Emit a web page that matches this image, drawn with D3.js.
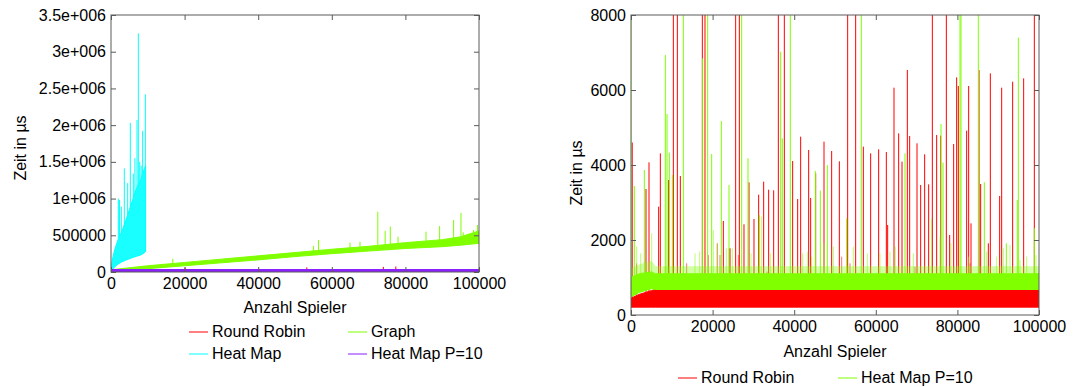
<!DOCTYPE html>
<html>
<head>
<meta charset="utf-8">
<script src="https://cdn.jsdelivr.net/npm/d3@7"></script>
<style>
  html, body { margin: 0; padding: 0; background: #fff; }
  svg { display: block; }
  text { font-family: "Liberation Sans", Arial, Helvetica, sans-serif; fill: #000; }
</style>
</head>
<body>
<svg id="chart" width="1073" height="387"></svg>
<script>
// ---------- shared axis data ----------
const xTicks = [0, 20000, 40000, 60000, 80000, 100000];
const xTickLabels = ["0", "20000", "40000", "60000", "80000", "100000"];

// ---------- left panel: all four algorithms ----------
const leftYTicks = [0, 500000, 1000000, 1500000, 2000000, 2500000, 3000000, 3500000];
const leftYTickLabels = ["0", "500000", "1e+006", "1.5e+006", "2e+006", "2.5e+006", "3e+006", "3.5e+006"];

// Round Robin (mostly hidden under Heat Map P=10)
const rrLeftX  = [0, 100000];
const rrLeftLo = [4000, 4000];
const rrLeftHi = [28000, 28000];
const rrLeftSpikes = [[20100, 60000], [53200, 62000], [74000, 70000], [77400, 75000]];

// Graph
const graphX  = [0, 10000, 20000, 30000, 40000, 50000, 60000, 70000, 80000, 90000, 95000, 100000];
const graphLo = [8000, 45000, 85000, 125000, 165000, 210000, 250000, 285000, 320000, 345000, 365000, 390000];
const graphHi = [30000, 85000, 130000, 175000, 220000, 265000, 310000, 350000, 400000, 440000, 480000, 560000];
const graphSpikes = [
  [16800, 180000], [55000, 354000], [56400, 436000], [64950, 400000], [67660, 413000],
  [72500, 821000], [74500, 560000], [75900, 617000], [78000, 480000], [85600, 549000],
  [89300, 626000], [93100, 708000], [95100, 805000], [95700, 540000], [98500, 572000], [99600, 640000]
];

// Heat Map (only measured up to ~9400 players)
const heatX  = [0, 500, 1000, 1500, 2000, 3000, 4000, 5000, 6000, 7000, 8000, 9000, 9400];
const heatLo = [0, 40000, 70000, 90000, 110000, 140000, 160000, 180000, 200000, 215000, 230000, 260000, 280000];
const heatHi = [50000, 200000, 300000, 380000, 450000, 560000, 700000, 850000, 1000000, 1150000, 1250000, 1400000, 1450000];
const heatSpikes = [
  [1990, 1000000], [2300, 980000], [2800, 890000], [3620, 1410000], [4530, 1210000],
  [5250, 2030000], [6070, 1340000], [6500, 1550000], [7070, 2070000], [7430, 3250000],
  [7800, 1500000], [8200, 1450000], [8600, 1920000], [9330, 2420000]
];

// Heat Map P=10
const hmpLeftX  = [0, 100000];
const hmpLeftLo = [6000, 6000];
const hmpLeftHi = [34000, 34000];

// ---------- right panel: Round Robin vs. Heat Map P=10 ----------
const rightYTicks = [0, 2000, 4000, 6000, 8000];
const rightYTickLabels = ["0", "2000", "4000", "6000", "8000"];

const rrX  = [0, 2000, 5000, 6000, 100000];
const rrLo = [210, 210, 210, 210, 210];
const rrHi = [450, 550, 650, 680, 680];
const rrSpikes = [
  [300, 4600], [3677, 3360], [4412, 4071], [6781, 2889], [7190, 4311], [9232, 3600],
  [10376, 9000], [11356, 9000], [12092, 3707], [17484, 9000], [18137, 9000],
  [22631, 2507], [24265, 1778], [25654, 9000], [26553, 9000], [27696, 2418], [28922, 3538],
  [30147, 2560], [31291, 3209], [32517, 3556], [33742, 3342], [34968, 3324],
  [36111, 9000], [37582, 9000], [39625, 4107], [40850, 3093], [41585, 4756], [43546, 4400],
  [44036, 3120], [45262, 3778], [47304, 4622], [49183, 4373], [51063, 4098],
  [53105, 9000], [55066, 9000], [56945, 4489], [58742, 4311], [60703, 4418], [62582, 4347],
  [62909, 2400], [64461, 6062], [65605, 4844], [66422, 4089], [67729, 6533], [68301, 4773],
  [70099, 4578], [70997, 3467], [71978, 4284], [72958, 3484], [73857, 9000], [74919, 4800],
  [75899, 4782], [77288, 9000], [78105, 2133], [79086, 4560], [79821, 6338], [80229, 6107],
  [82272, 4916], [82762, 6107], [83334, 2444], [85295, 6533], [85703, 3493], [87582, 1911],
  [88073, 6444], [90360, 3173], [90851, 6062], [93547, 6222], [96243, 6311], [98857, 9000]
];
const rrMinorSpikes = [
  [1389, 1378], [8415, 1289], [13644, 1378], [18954, 1600], [21160, 1911], [21814, 1600],
  [24101, 1778], [26307, 1600], [33334, 1156], [51634, 1556], [53677, 1378], [69608, 1289],
  [83089, 1378]
];

const hmpX  = [0, 2000, 5000, 6000, 100000];
const hmpLo = [480, 600, 700, 680, 680];
const hmpHi = [1000, 1100, 1150, 1100, 1100];
const hmpFuzz = [1250, 1350, 1450, 1300, 1300];
const hmpSpikes = [
  [0, 9000], [817, 3440], [3268, 3867], [8415, 6933], [8824, 5360], [9396, 4329], [10131, 3733],
  [12826, 9000], [17566, 6845], [18790, 9000], [19771, 4293], [22141, 5173], [24020, 3467],
  [27124, 9000], [28677, 4178], [31455, 2667], [36683, 7022], [37092, 4711], [39050, 9000],
  [45180, 3840], [46406, 3316], [48121, 4000], [52860, 2578], [56450, 9000], [67157, 4311],
  [75981, 5093], [76471, 4062], [80640, 9000], [80880, 9000], [85131, 9000], [86602, 3538],
  [91994, 1911], [94690, 3067], [94935, 7396], [98857, 2311]
];
const hmpMinorSpikes = [
  [1389, 1822], [2369, 1644], [5065, 2178], [15686, 1644], [16830, 1689], [20180, 2267],
  [21079, 1911], [23366, 1778], [24837, 1778], [29412, 1644], [31945, 2622], [34232, 1644],
  [42076, 1644], [43301, 1689], [44281, 1556], [47304, 1911], [49592, 1822], [54495, 1822],
  [57926, 1644], [61030, 1644], [63481, 1689], [64788, 1822], [69200, 1644], [73612, 2578],
  [75736, 2089], [78432, 1911], [82762, 1556], [87174, 1689], [89625, 1556], [91259, 1778],
  [92893, 1867], [95344, 1467], [96978, 1556], [99266, 1600]
];

// ---------- colours ----------
const RED = "#ff0000", GREEN = "#7fff00", CYAN = "#00ffff", PURPLE = "#8a1fff";
const AXIS = "#5a5a5a";

const svg = d3.select("#chart");

function panel(opts) {
  const g = svg.append("g");
  const x = d3.scaleLinear().domain([0, 100000]).range([opts.left, opts.right]);
  const y = d3.scaleLinear().domain(opts.yDomain).range([opts.bottom, opts.top]);

  const clipId = "clip-" + opts.id;
  svg.append("clipPath").attr("id", clipId)
    .append("rect")
    .attr("x", opts.left).attr("y", opts.top)
    .attr("width", opts.right - opts.left).attr("height", opts.bottom - opts.top);

  const plot = g.append("g").attr("clip-path", `url(#${clipId})`);

  opts.series.forEach(s => {
    const layer = plot.append("g");
    const pts = s.x.map((v, i) => ({ x: v, lo: s.lo[i], hi: s.hi[i], fz: s.fuzz ? s.fuzz[i] : null }));
    const base = d3.scaleLinear().domain(s.x).range(s.hi).clamp(true);
    if (s.fuzz) {
      layer.append("path")
        .attr("d", d3.area().x(d => x(d.x)).y0(d => y(d.hi)).y1(d => y(d.fz))(pts))
        .attr("fill", s.color).attr("fill-opacity", 0.35);
    }
    // faint short spikes just above the band
    layer.selectAll("line.minor").data(s.minor || []).join("line")
      .attr("class", "minor")
      .attr("x1", d => x(d[0])).attr("x2", d => x(d[0]))
      .attr("y1", d => y(base(d[0]))).attr("y2", d => y(d[1]))
      .attr("stroke", s.color).attr("stroke-opacity", 0.55).attr("stroke-width", 1);
    layer.append("path")
      .attr("d", d3.area().x(d => x(d.x)).y0(d => y(d.lo)).y1(d => y(d.hi))(pts))
      .attr("fill", s.color).attr("fill-opacity", s.bandOpacity || 1)
      .attr("stroke", s.color).attr("stroke-width", 1);
    layer.selectAll("line.spike").data(s.spikes || []).join("line")
      .attr("class", "spike")
      .attr("x1", d => x(d[0])).attr("x2", d => x(d[0]))
      .attr("y1", d => y(base(d[0]))).attr("y2", d => y(d[1]))
      .attr("stroke", s.color).attr("stroke-width", 1);
  });

  // frame
  g.append("rect")
    .attr("x", opts.left).attr("y", opts.top)
    .attr("width", opts.right - opts.left).attr("height", opts.bottom - opts.top)
    .attr("fill", "none").attr("stroke", AXIS).attr("stroke-width", 1);

  // axes with inward ticks, mirrored on top and right
  const fmtX = (d) => xTickLabels[xTicks.indexOf(d)];
  const fmtY = (d) => opts.yTickLabels[opts.yTicks.indexOf(d)];

  const ax = g.append("g").attr("transform", `translate(0,${opts.bottom})`)
    .call(d3.axisBottom(x).tickValues(xTicks).tickFormat(fmtX).tickSizeInner(-5).tickSizeOuter(0).tickPadding(6));
  const axTop = g.append("g").attr("transform", `translate(0,${opts.top})`)
    .call(d3.axisTop(x).tickValues(xTicks).tickFormat("").tickSizeInner(-5).tickSizeOuter(0));
  const ay = g.append("g").attr("transform", `translate(${opts.left},0)`)
    .call(d3.axisLeft(y).tickValues(opts.yTicks).tickFormat(fmtY).tickSizeInner(-5).tickSizeOuter(0).tickPadding(5));
  const ayR = g.append("g").attr("transform", `translate(${opts.right},0)`)
    .call(d3.axisRight(y).tickValues(opts.yTicks).tickFormat("").tickSizeInner(-5).tickSizeOuter(0));
  [ax, axTop, ay, ayR].forEach(a => {
    a.select(".domain").remove();
    a.selectAll(".tick line").attr("stroke", AXIS);
    a.selectAll("text").attr("font-size", 16).attr("font-family", "Liberation Sans, Arial, sans-serif").attr("fill", "#000");
  });

  // axis titles
  g.append("text")
    .attr("x", (opts.left + opts.right) / 2).attr("y", opts.xTitleY)
    .attr("text-anchor", "middle").attr("font-size", 16)
    .text("Anzahl Spieler");
  g.append("text")
    .attr("transform", `translate(${opts.yTitleX},${opts.yTitleY}) rotate(-90)`)
    .attr("text-anchor", "middle").attr("font-size", 16)
    .text("Zeit in µs");

  // legend
  opts.legend.forEach(L => {
    g.append("line")
      .attr("x1", L.x).attr("x2", L.x + 19).attr("y1", L.y).attr("y2", L.y)
      .attr("stroke", L.color).attr("stroke-width", 1);
    g.append("text")
      .attr("x", L.x + 23).attr("y", L.y + 5)
      .attr("font-size", 16).text(L.label);
  });
}

panel({
  id: "left", left: 111, right: 479, top: 15, bottom: 272,
  yDomain: [0, 3500000], yTicks: leftYTicks, yTickLabels: leftYTickLabels,
  xTitleY: 313, yTitleX: 26, yTitleY: 148,
  series: [
    { x: rrLeftX, lo: rrLeftLo, hi: rrLeftHi, spikes: rrLeftSpikes, color: RED },
    { x: graphX, lo: graphLo, hi: graphHi, spikes: graphSpikes, color: GREEN },
    { x: heatX, lo: heatLo, hi: heatHi, spikes: heatSpikes, color: CYAN, bandOpacity: 0.9 },
    { x: hmpLeftX, lo: hmpLeftLo, hi: hmpLeftHi, spikes: [], color: PURPLE }
  ],
  legend: [
    { x: 189, y: 332, color: RED, label: "Round Robin" },
    { x: 348, y: 332, color: GREEN, label: "Graph" },
    { x: 189, y: 354, color: CYAN, label: "Heat Map" },
    { x: 348, y: 354, color: PURPLE, label: "Heat Map P=10" }
  ]
});

panel({
  id: "right", left: 631, right: 1039, top: 15, bottom: 315,
  yDomain: [0, 8000], yTicks: rightYTicks, yTickLabels: rightYTickLabels,
  xTitleY: 357, yTitleX: 582, yTitleY: 173,
  series: [
    { x: rrX, lo: rrLo, hi: rrHi, spikes: rrSpikes, minor: rrMinorSpikes, color: RED },
    { x: hmpX, lo: hmpLo, hi: hmpHi, fuzz: hmpFuzz, spikes: hmpSpikes, minor: hmpMinorSpikes, color: GREEN }
  ],
  legend: [
    { x: 678, y: 378, color: RED, label: "Round Robin" },
    { x: 838, y: 378, color: GREEN, label: "Heat Map P=10" }
  ]
});
</script>
</body>
</html>
